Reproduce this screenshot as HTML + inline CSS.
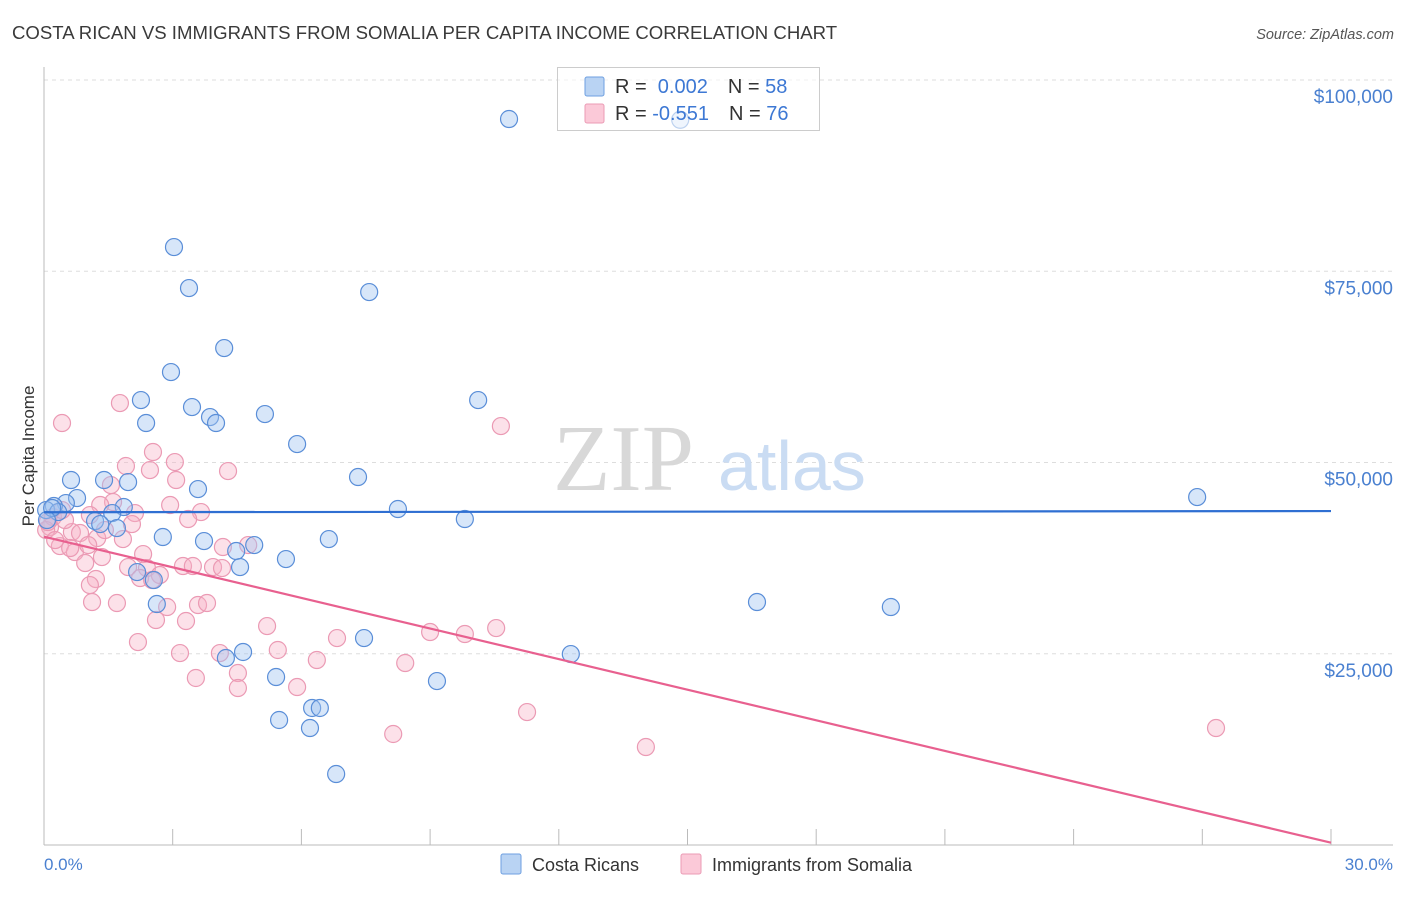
<!DOCTYPE html>
<html><head><meta charset="utf-8"><style>
body{margin:0;background:#fff;font-family:"Liberation Sans",sans-serif;}
</style></head><body>
<svg width="1406" height="892" viewBox="0 0 1406 892" xmlns="http://www.w3.org/2000/svg">
<text x="12" y="39" font-size="18.6" fill="#3a3a3a">COSTA RICAN VS IMMIGRANTS FROM SOMALIA PER CAPITA INCOME CORRELATION CHART</text>
<text x="1394" y="39" font-size="14.5" fill="#555" font-style="italic" text-anchor="end">Source: ZipAtlas.com</text>
<g id="grid"></g>
<g>
<text x="553" y="490" font-family="Liberation Serif,serif" font-size="94" fill="#d8d8d8">ZIP</text>
<text x="718" y="490" font-size="70" fill="#cadcf3">atlas</text>
</g>
<line x1="44" y1="67" x2="44" y2="845" stroke="#bbb"/>
<line x1="44" y1="845" x2="1393" y2="845" stroke="#bbb"/>
<g id="xticks"></g>
<g id="pts"></g>
<g id="trends"></g>
<text x="44" y="870" font-size="17" fill="#4a80d0">0.0%</text>
<text x="1393" y="870" font-size="17" fill="#4a80d0" text-anchor="end">30.0%</text>
<text transform="translate(34,456) rotate(-90)" font-size="17" fill="#333" text-anchor="middle">Per Capita Income</text>
<g>
<rect x="557.5" y="67.5" width="262" height="63" fill="rgba(255,255,255,0.6)" stroke="#ccc"/>
<rect x="585" y="77" width="19" height="19" fill="#b9d3f3" stroke="#6e9fe0" rx="2"/>
<rect x="585" y="104" width="19" height="19" fill="#fbc9d8" stroke="#eb9bb5" rx="2"/>
<text x="615" y="93" font-size="20" fill="#333">R = <tspan fill="#3d78d4">&#160;0.002</tspan><tspan dx="20" fill="#333">N = </tspan><tspan fill="#3d78d4">58</tspan></text>
<text x="615" y="120" font-size="20" fill="#333">R = <tspan fill="#3d78d4">-0.551</tspan><tspan dx="20" fill="#333">N = </tspan><tspan fill="#3d78d4">76</tspan></text>
</g>
<g>
<rect x="501" y="854" width="20" height="20" fill="#b9d3f3" stroke="#6e9fe0" rx="2"/>
<text x="532" y="871" font-size="18" fill="#333">Costa Ricans</text>
<rect x="681" y="854" width="20" height="20" fill="#fbc9d8" stroke="#eb9bb5" rx="2"/>
<text x="712" y="871" font-size="18" fill="#333">Immigrants from Somalia</text>
</g>
</svg>
<script>
const yTicks=[25000,50000,75000,100000];
const yTickLabels=["$25,000","$50,000","$75,000","$100,000"];
const blueX=[10.84,14.83,3.03,3.38,7.58,4.20,2.96,2.26,10.12,3.45,5.15,3.87,2.38,4.01,5.90,7.32,0.63,1.40,1.96,3.59,26.88,0.77,0.51,0.23,1.86,8.25,0.05,0.33,1.59,9.81,1.19,1.31,1.70,2.77,3.73,6.64,4.90,4.48,5.64,4.57,2.17,2.56,2.63,16.62,19.74,7.46,12.28,4.24,4.64,5.41,9.16,6.25,6.43,5.48,6.20,6.81,0.19,0.07];
const blueY=[94900,94800,78160,72800,72280,64960,61820,58160,58160,57250,56330,55940,55160,55160,52410,48100,47710,47710,47440,46530,45480,45350,44700,44310,44180,43920,43780,43520,43390,42610,42350,41950,41430,40260,39730,39990,39210,38430,37380,36330,35680,34640,31500,31760,31110,27050,24960,24440,25230,21960,21430,17910,17910,16340,15290,9280,44050,42480];
const pinkX=[1.77,0.42,2.54,1.91,3.05,2.47,4.29,3.08,1.56,2.94,1.61,3.66,3.36,2.12,2.05,0.14,0.65,0.84,1.84,1.24,0.37,0.72,2.31,4.17,4.76,0.96,1.35,1.96,2.40,2.70,3.24,3.47,3.94,4.15,2.24,1.21,1.07,2.52,1.12,1.70,2.87,3.59,3.80,2.61,3.31,5.20,2.19,3.17,4.10,5.45,6.36,6.83,3.54,4.52,4.52,5.90,0.21,10.65,9.00,9.81,10.54,8.42,11.26,8.14,14.03,27.32,0.05,0.09,0.26,0.49,1.03,1.42,1.31,1.07,0.42,0.61];
const pinkY=[57770,55160,51370,49540,50060,49010,48880,47710,47050,44440,44830,43520,42610,43390,41950,41560,40910,40780,39990,40120,39080,38300,38030,38950,39210,36860,37640,36330,36200,35290,36470,36470,36330,36200,34900,34770,33980,34640,31760,31630,31110,31370,31630,29410,29280,28620,26530,25090,25090,25490,24180,27050,21830,22480,20520,20650,42870,54760,27840,27580,28360,23790,17380,14510,12810,15290,41170,42220,39860,42480,39210,41170,44440,43130,43780,38820];
const trendX=[0,30];
const blueTrendY=[43500,43650];
const pinkTrendY=[40300,300];
const NS='http://www.w3.org/2000/svg';
function sx(v){return 44+v/30*1287;}
function sy(v){return 845-v/100000*765;}
function mk(t,a,p){const e=document.createElementNS(NS,t);for(const k in a)e.setAttribute(k,a[k]);p.appendChild(e);return e;}
const grid=document.getElementById('grid');
yTicks.forEach((t,i)=>{
  const l=mk('line',{x1:44,x2:1393,y1:sy(t),y2:sy(t),stroke:'#ddd','stroke-dasharray':'4,4'},grid);
  
  
  const tx=mk('text',{x:1393,y:sy(t)+23,'font-size':19,fill:'#4a80d0','text-anchor':'end'},grid);
  tx.textContent=yTickLabels[i];
  
  
});
const xt=document.getElementById('xticks');
for(let i=1;i<=10;i++){
  const l=mk('line',{x1:sx(i*3),x2:sx(i*3),y1:829,y2:845,stroke:'#bbb'},xt);
  
  
}
const pts=document.getElementById('pts');
pinkX.forEach((x,i)=>{
  const c=mk('circle',{cx:sx(x),cy:sy(pinkY[i]),r:8.5,fill:'rgba(248,176,198,0.38)',stroke:'#eb9ab4','stroke-width':1.2},pts);
  
  
});
blueX.forEach((x,i)=>{
  const c=mk('circle',{cx:sx(x),cy:sy(blueY[i]),r:8.5,fill:'rgba(160,196,240,0.42)',stroke:'#5a8ed8','stroke-width':1.2},pts);
  
  
});
const tr=document.getElementById('trends');
const bl=mk('line',{x1:sx(trendX[0]),y1:sy(blueTrendY[0]),x2:sx(trendX[1]),y2:sy(blueTrendY[1]),stroke:'#2f6fd2','stroke-width':2.2},tr);


const pl=mk('line',{x1:sx(trendX[0]),y1:sy(pinkTrendY[0]),x2:sx(trendX[1]),y2:sy(pinkTrendY[1]),stroke:'#e8608f','stroke-width':2.2},tr);


</script>
</body></html>
